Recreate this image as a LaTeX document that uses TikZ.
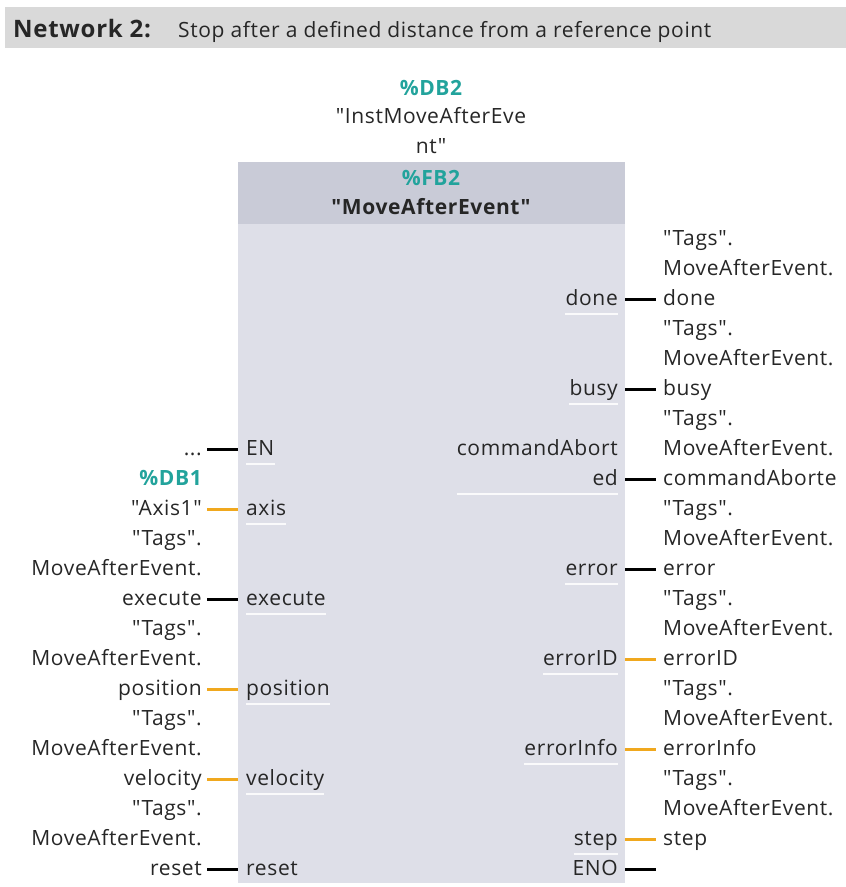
\documentclass[tikz,border=0pt]{standalone}
\usepackage{fontspec}
\setmainfont{Open Sans}[LetterSpace=3,Ligatures=TeXOff]
\usetikzlibrary{calc}
\definecolor{netbar}{RGB}{217,217,217}
\definecolor{fbhead}{RGB}{201,203,215}
\definecolor{fbbody}{RGB}{222,223,232}
\definecolor{ink}{RGB}{38,38,38}
\definecolor{dbteal}{RGB}{34,163,156}
\definecolor{wireorange}{RGB}{240,168,30}
\begin{document}
\begin{tikzpicture}[x=1pt,y=-1pt,
  every node/.style={inner sep=0pt,text=ink,font=\fontsize{21}{30}\selectfont},
  uline/.style={draw=white,line width=1.4pt,opacity=0.85},
  pinl/.style={anchor=base west,
    append after command={([yshift=-9pt]\tikzlastnode.base west) edge[uline] ([yshift=-9pt]\tikzlastnode.base east)}},
  pinr/.style={anchor=base east,align=right,
    append after command={([yshift=-9pt]\tikzlastnode.base west) edge[uline] ([yshift=-9pt]\tikzlastnode.base east)}},
  opl/.style={anchor=base east,align=right},
  opr/.style={anchor=base west,align=left},
  tag/.style={text=dbteal,font=\fontsize{21}{30}\selectfont\bfseries},
  wire/.style={draw=black,line width=3pt},
  owire/.style={draw=wireorange,line width=3pt}]
  \useasboundingbox (0,0) rectangle (846,887);
  % network title
  \fill[netbar] (5,7) rectangle (846,48);
  \node[anchor=base west,font=\fontsize{24}{28}\selectfont\bfseries] (net) at (13,37) {Network 2:};
  \node[anchor=base west] (title) at (178,37) {Stop after a defined distance from a reference point};
  % function block
  \fill[fbbody] (238,162) rectangle (625,883);
  \fill[fbhead] (238,162) rectangle (625,224);
  \node[tag,anchor=base] (db2) at (431,95) {\%DB2};
  \node[anchor=base,align=center] (inst) at (431,153) {"InstMoveAfterEve\\nt"};
  \node[tag,anchor=base] (fb2) at (431,185) {\%FB2};
  \node[anchor=base,font=\fontsize{21}{30}\selectfont\bfseries] (fbname) at (431,214) {"MoveAfterEvent"};
  % inputs
  \node[pinl] (en) at (246,455) {EN};
  \node[pinl] (axis) at (246,515) {axis};
  \node[pinl] (exec) at (246,605) {execute};
  \node[pinl] (pos) at (246,695) {position};
  \node[pinl] (vel) at (246,785) {velocity};
  \node[anchor=base west] (rst) at (246,875) {reset};
  \node[opl] (enop) at (202,455) {...};
  \node[tag,anchor=base east] (db1) at (202,485) {\%DB1};
  \node[opl] (axisop) at (202,515) {"Axis1"};
  \node[opl] (execop) at (202,605) {"Tags".\\MoveAfterEvent.\\execute};
  \node[opl] (posop) at (202,695) {"Tags".\\MoveAfterEvent.\\position};
  \node[opl] (velop) at (202,785) {"Tags".\\MoveAfterEvent.\\velocity};
  \node[opl] (rstop) at (202,875) {"Tags".\\MoveAfterEvent.\\reset};
  \draw[wire] ($(en.base west -| enop.east)+(5,-6)$) -- ($(en.base west)+(-8,-6)$);
  \draw[owire] ($(axis.base west -| axisop.east)+(5,-6)$) -- ($(axis.base west)+(-8,-6)$);
  \draw[wire] ($(exec.base west -| execop.east)+(5,-6)$) -- ($(exec.base west)+(-8,-6)$);
  \draw[owire] ($(pos.base west -| posop.east)+(5,-6)$) -- ($(pos.base west)+(-8,-6)$);
  \draw[owire] ($(vel.base west -| velop.east)+(5,-6)$) -- ($(vel.base west)+(-8,-6)$);
  \draw[wire] ($(rst.base west -| rstop.east)+(5,-6)$) -- ($(rst.base west)+(-8,-6)$);
  % outputs
  \node[pinr] (done) at (618,305) {done};
  \node[pinr] (busy) at (618,395) {busy};
  \node[pinr] (cmd) at (618,485) {commandAbort\\ed};
  \node[pinr] (err) at (618,575) {error};
  \node[pinr] (errid) at (618,665) {errorID};
  \node[pinr] (errinfo) at (618,755) {errorInfo};
  \node[pinr] (stp) at (618,845) {step};
  \node[anchor=base east] (eno) at (618,875) {ENO};
  \node[opr] (doneop) at (663,305) {"Tags".\\MoveAfterEvent.\\done};
  \node[opr] (busyop) at (663,395) {"Tags".\\MoveAfterEvent.\\busy};
  \node[opr] (cmdop) at (663,485) {"Tags".\\MoveAfterEvent.\\commandAborte};
  \node[opr] (errop) at (663,575) {"Tags".\\MoveAfterEvent.\\error};
  \node[opr] (erridop) at (663,665) {"Tags".\\MoveAfterEvent.\\errorID};
  \node[opr] (errinfoop) at (663,755) {"Tags".\\MoveAfterEvent.\\errorInfo};
  \node[opr] (stpop) at (663,845) {"Tags".\\MoveAfterEvent.\\step};
  \draw[wire] ($(done.base east)+(7,-6)$) -- ($(done.base east -| doneop.west)+(-7,-6)$);
  \draw[wire] ($(busy.base east)+(7,-6)$) -- ($(busy.base east -| busyop.west)+(-7,-6)$);
  \draw[wire] ($(cmd.base east)+(7,-6)$) -- ($(cmd.base east -| cmdop.west)+(-7,-6)$);
  \draw[wire] ($(err.base east)+(7,-6)$) -- ($(err.base east -| errop.west)+(-7,-6)$);
  \draw[owire] ($(errid.base east)+(7,-6)$) -- ($(errid.base east -| erridop.west)+(-7,-6)$);
  \draw[owire] ($(errinfo.base east)+(7,-6)$) -- ($(errinfo.base east -| errinfoop.west)+(-7,-6)$);
  \draw[owire] ($(stp.base east)+(7,-6)$) -- ($(stp.base east -| stpop.west)+(-7,-6)$);
  \draw[wire] ($(eno.base east)+(7,-6)$) -- ++(31,0);
\end{tikzpicture}
\end{document}
